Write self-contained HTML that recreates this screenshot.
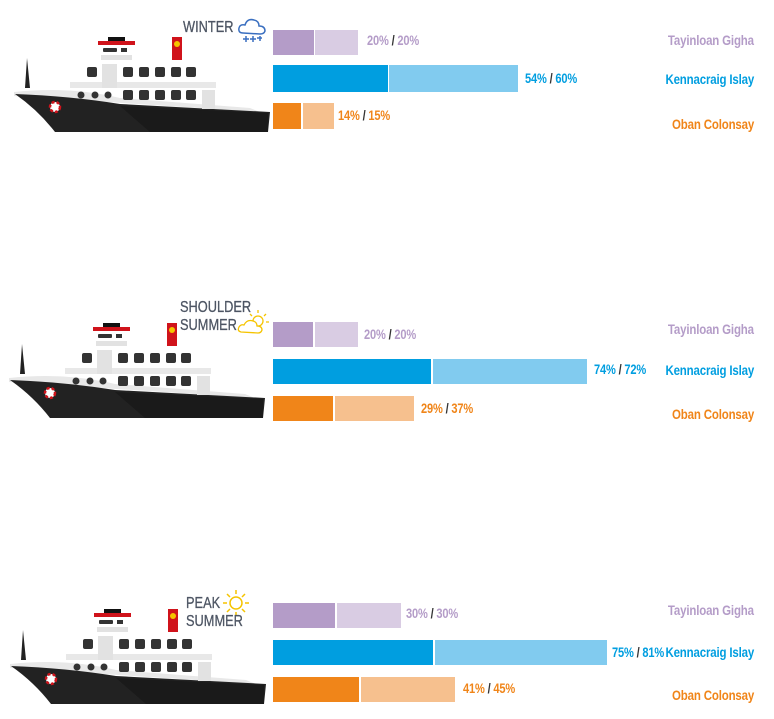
<!DOCTYPE html>
<html><head><meta charset="utf-8"><style>
body{margin:0;width:774px;height:719px;background:#fff;position:relative;overflow:hidden;font-family:"Liberation Sans",sans-serif}
.t{position:absolute;font-weight:bold;font-size:13.5px;white-space:nowrap;transform:scaleX(0.82);transform-origin:left top;letter-spacing:-0.2px}
.r{position:absolute;font-weight:bold;font-size:14px;white-space:nowrap;transform:scaleX(0.82);transform-origin:right top;right:20px;letter-spacing:-0.2px}
.h{position:absolute;font-size:16px;color:#4d5563;transform:scaleX(0.8);transform-origin:left top;line-height:18px;-webkit-text-stroke:0.3px #4d5563}
.b{position:absolute;height:25px}
.p{color:#b49cc8}.bl{color:#009ee0}.o{color:#f08519}.s{color:#333}
</style></head><body>
<svg width="774" height="719" style="position:absolute;left:0;top:0">
<defs>
<g id="ship">
<polygon points="25,88 27,58 30,88" fill="#222"/>
<rect x="70" y="82" width="146" height="6" fill="#e8e8e8"/>
<path d="M14,92 Q70,86 120,98 L250,108 L260,112 L14,96 Z" fill="#e8e8e8"/>
<path d="M15,94 Q70,96 120,104 L270,112 L268,132 L55,132 Q38,110 15,94 Z" fill="#222"/>
<path d="M120,106 L268,113 L268,132 L150,132 Z" fill="#1a1a1a"/>
<rect x="102" y="64" width="15" height="24" fill="#e2e2e2"/>
<rect x="101" y="55" width="31" height="5" fill="#e2e2e2"/>
<rect x="103" y="48" width="14" height="4" rx="1" fill="#333"/>
<rect x="121" y="48" width="6" height="4" fill="#333"/>
<rect x="98" y="41" width="37" height="4" fill="#d0131b"/>
<rect x="108" y="37" width="17" height="4" fill="#111"/>
<rect x="172" y="37" width="10" height="23" fill="#d0131b"/>
<circle cx="177" cy="44" r="3" fill="#f5c400"/>
<g fill="#333">
<rect x="87" y="67" width="10" height="10" rx="2"/>
<rect x="123" y="67" width="10" height="10" rx="2"/><rect x="139" y="67" width="10" height="10" rx="2"/><rect x="155" y="67" width="10" height="10" rx="2"/><rect x="171" y="67" width="10" height="10" rx="2"/><rect x="186" y="67" width="10" height="10" rx="2"/>
<circle cx="81" cy="95" r="3.5"/><circle cx="95" cy="95" r="3.5"/><circle cx="108" cy="95" r="3.5"/>
<rect x="123" y="90" width="10" height="10" rx="2"/><rect x="139" y="90" width="10" height="10" rx="2"/><rect x="155" y="90" width="10" height="10" rx="2"/><rect x="171" y="90" width="10" height="10" rx="2"/><rect x="186" y="90" width="10" height="10" rx="2"/>
</g>
<rect x="202" y="90" width="13" height="19" fill="#e2e2e2"/>
<circle cx="55" cy="107" r="5" fill="#fff" stroke="#d0131b" stroke-width="2.5" stroke-dasharray="3 2"/>
</g>
</defs>
<use href="#ship"/>
<use href="#ship" transform="translate(-5,286)"/>
<use href="#ship" transform="translate(-4,572)"/>
<g fill="none" stroke="#3a6fc0" stroke-width="1.5">
<path d="M243,33 Q238,33 239,28 Q240,24 245,25 Q247,18 254,20 Q259,21 259,26 Q265,26 265,31 Q264,34 260,34 Z"/>
<path d="M246,36 v6 M243,39 h6 M253,36 v6 M250,39 h6 M260,36 v5 M257,38 h5"/>
</g>
<g fill="none" stroke="#f5c400" stroke-width="1.3">
<circle cx="258" cy="321" r="5"/>
<path d="M258,313v-3 M264,316l2,-2 M266,322h3 M252,316l-2,-2"/>
<path d="M241,332 Q237,331 239,327 Q241,324 244,325 Q247,319 253,321 Q257,322 257,326 Q262,326 262,330 Q261,333 258,333 Z" fill="#fff"/>
</g>
<g fill="none" stroke="#f5c400" stroke-width="1.5">
<circle cx="236" cy="603" r="6"/>
<path d="M236,594v-4 M236,612v4 M227,603h-4 M245,603h4 M230,597l-3,-3 M242,597l3,-3 M230,609l-3,3 M242,609l3,3"/>
</g>
</svg>
<div class="h" style="left:183px;top:19px">WINTER</div>
<div class="h" style="left:180px;top:299px">SHOULDER<br>SUMMER</div>
<div class="h" style="left:186px;top:595px">PEAK<br>SUMMER</div>

<div class="b" style="left:273px;top:30px;width:41px;background:#b49cc8"></div><div class="b" style="left:315px;top:30px;width:43px;background:#d9cce3"></div>
<div class="b" style="left:273px;top:65px;width:115px;height:27px;background:#009ee0"></div><div class="b" style="left:389px;top:65px;width:129px;height:27px;background:#81cbef"></div>
<div class="b" style="left:273px;top:103px;width:28px;height:26px;background:#f08519"></div><div class="b" style="left:303px;top:103px;width:31px;height:26px;background:#f6c08e"></div>
<div class="t p" style="left:367px;top:33px">20% <span class="s">/</span> 20%</div>
<div class="t bl" style="left:525px;top:71px">54% <span class="s">/</span> 60%</div>
<div class="t o" style="left:338px;top:108px">14% <span class="s">/</span> 15%</div>
<div class="r p" style="top:32px">Tayinloan Gigha</div>
<div class="r bl" style="top:71px">Kennacraig Islay</div>
<div class="r o" style="top:116px">Oban Colonsay</div>

<div class="b" style="left:273px;top:322px;width:40px;background:#b49cc8"></div><div class="b" style="left:315px;top:322px;width:43px;background:#d9cce3"></div>
<div class="b" style="left:273px;top:359px;width:158px;background:#009ee0"></div><div class="b" style="left:433px;top:359px;width:154px;background:#81cbef"></div>
<div class="b" style="left:273px;top:396px;width:60px;background:#f08519"></div><div class="b" style="left:335px;top:396px;width:79px;background:#f6c08e"></div>
<div class="t p" style="left:364px;top:327px">20% <span class="s">/</span> 20%</div>
<div class="t bl" style="left:594px;top:362px">74% <span class="s">/</span> 72%</div>
<div class="t o" style="left:421px;top:401px">29% <span class="s">/</span> 37%</div>
<div class="r p" style="top:321px">Tayinloan Gigha</div>
<div class="r bl" style="top:362px">Kennacraig Islay</div>
<div class="r o" style="top:406px">Oban Colonsay</div>

<div class="b" style="left:273px;top:603px;width:62px;background:#b49cc8"></div><div class="b" style="left:337px;top:603px;width:64px;background:#d9cce3"></div>
<div class="b" style="left:273px;top:640px;width:160px;background:#009ee0"></div><div class="b" style="left:435px;top:640px;width:172px;background:#81cbef"></div>
<div class="b" style="left:273px;top:677px;width:86px;background:#f08519"></div><div class="b" style="left:361px;top:677px;width:94px;background:#f6c08e"></div>
<div class="t p" style="left:406px;top:606px">30% <span class="s">/</span> 30%</div>
<div class="t bl" style="left:612px;top:645px">75% <span class="s">/</span> 81%</div>
<div class="t o" style="left:463px;top:681px">41% <span class="s">/</span> 45%</div>
<div class="r p" style="top:602px">Tayinloan Gigha</div>
<div class="r bl" style="top:644px">Kennacraig Islay</div>
<div class="r o" style="top:687px">Oban Colonsay</div>
</body></html>
